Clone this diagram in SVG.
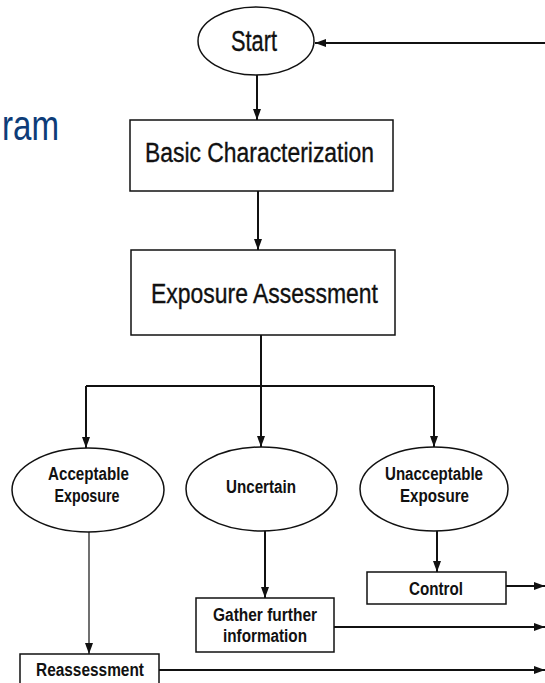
<svg xmlns="http://www.w3.org/2000/svg" width="545" height="683" viewBox="0 0 545 683">
<style>
.box{fill:#fff;stroke:#111;stroke-width:1.5}
.t{font-family:"Liberation Sans",Arial,sans-serif;fill:#111;text-anchor:middle}
.big{font-size:27px;stroke:#111;stroke-width:0.35}
.sm{font-size:17.5px;font-weight:bold}
.c{fill:none;stroke:#111;stroke-width:2}
.thin{fill:none;stroke:#111;stroke-width:1.2}
</style>
<defs>
<marker id="ah" markerUnits="userSpaceOnUse" markerWidth="12" markerHeight="10" refX="11" refY="5" orient="auto">
<path d="M0,1 L11,5 L0,9 Z" fill="#111"/>
</marker>
</defs>
<rect width="545" height="683" fill="#fff"/>
<text x="2" y="140" font-family="Liberation Sans,Arial,sans-serif" font-size="42" fill="#0D3C78" textLength="57" lengthAdjust="spacingAndGlyphs">ram</text>

<g id="connectors">
<line class="c" x1="545" y1="43" x2="315" y2="43" marker-end="url(#ah)"/>
<line class="c" x1="257" y1="75" x2="257" y2="120" marker-end="url(#ah)"/>
<line class="c" x1="258" y1="191" x2="258" y2="250" marker-end="url(#ah)"/>
<polyline class="c" points="261,335 261,386"/>
<polyline class="c" points="86,386 434,386"/>
<line class="c" x1="86" y1="386" x2="86" y2="448" marker-end="url(#ah)"/>
<line class="c" x1="261" y1="386" x2="261" y2="447" marker-end="url(#ah)"/>
<line class="c" x1="434" y1="386" x2="434" y2="447" marker-end="url(#ah)"/>
<line class="thin" x1="89" y1="532" x2="89" y2="654" marker-end="url(#ah)"/>
<line class="c" x1="265" y1="531" x2="265" y2="598" marker-end="url(#ah)"/>
<line class="c" x1="437" y1="531" x2="437" y2="572" marker-end="url(#ah)"/>
<line class="c" x1="506" y1="586" x2="545" y2="586" marker-end="url(#ah)"/>
<line class="c" x1="334" y1="627" x2="545" y2="627" marker-end="url(#ah)"/>
<line class="c" x1="159" y1="670" x2="545" y2="670" marker-end="url(#ah)"/>
</g>

<g id="start">
<ellipse class="box" cx="256" cy="41" rx="58" ry="34"/>
<text class="t" x="254" y="51" font-size="30" stroke="#111" stroke-width="0.35" textLength="46" lengthAdjust="spacingAndGlyphs">Start</text>
</g>
<g id="basic">
<rect class="box" x="130" y="120" width="263" height="71"/>
<text class="t big" x="259.5" y="162" textLength="229" lengthAdjust="spacingAndGlyphs">Basic Characterization</text>
</g>
<g id="exposure">
<rect class="box" x="131" y="250" width="264" height="85"/>
<text class="t big" x="264.5" y="303" textLength="227" lengthAdjust="spacingAndGlyphs">Exposure Assessment</text>
</g>
<g id="acceptable">
<ellipse class="box" cx="88" cy="490" rx="76" ry="42"/>
<text class="t sm" x="88.5" y="480" textLength="81" lengthAdjust="spacingAndGlyphs">Acceptable</text>
<text class="t sm" x="87" y="502" textLength="65" lengthAdjust="spacingAndGlyphs">Exposure</text>
</g>
<g id="uncertain">
<ellipse class="box" cx="261.5" cy="489" rx="75.5" ry="42"/>
<text class="t sm" x="261" y="493" textLength="70" lengthAdjust="spacingAndGlyphs">Uncertain</text>
</g>
<g id="unacceptable">
<ellipse class="box" cx="434" cy="489" rx="74" ry="42"/>
<text class="t sm" x="434" y="480" textLength="98" lengthAdjust="spacingAndGlyphs">Unacceptable</text>
<text class="t sm" x="434.5" y="502" textLength="69" lengthAdjust="spacingAndGlyphs">Exposure</text>
</g>
<g id="control">
<rect class="box" x="367" y="572" width="139" height="32"/>
<text class="t sm" x="436" y="595" textLength="54" lengthAdjust="spacingAndGlyphs">Control</text>
</g>
<g id="gather">
<rect class="box" x="196" y="598" width="138" height="54"/>
<text class="t sm" x="265" y="621" textLength="104" lengthAdjust="spacingAndGlyphs">Gather further</text>
<text class="t sm" x="265" y="642" textLength="84" lengthAdjust="spacingAndGlyphs">information</text>
</g>
<g id="reassessment">
<rect class="box" x="20" y="654" width="139" height="40"/>
<text class="t sm" x="90" y="676" textLength="108" lengthAdjust="spacingAndGlyphs">Reassessment</text>
</g>
</svg>
